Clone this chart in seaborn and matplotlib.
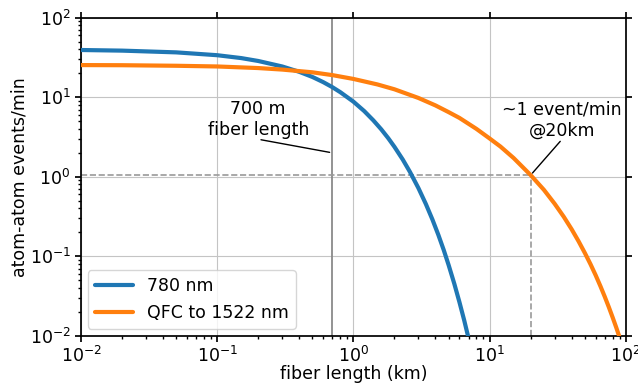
import pandas as pd
import seaborn as sns
import matplotlib.pyplot as plt

# values (fiber length in km, rate in events/min)
len_780 = [0.01, 0.02, 0.05, 0.1, 0.15, 0.2, 0.3, 0.4, 0.5, 0.6, 0.7, 0.8,
           1.0, 1.2, 1.4, 1.6, 1.8, 2.0, 2.3, 2.6, 3.0, 3.4, 3.8, 4.2, 4.6,
           5.0, 5.5, 6.0, 6.5, 7.0]
rate_780 = [39.3, 38.6, 36.7, 33.8, 31.1, 28.6, 24.4, 20.9, 18.0, 15.5, 13.4, 11.6,
            8.8, 6.7, 5.12, 3.95, 3.06, 2.38, 1.65, 1.15, 0.72, 0.455, 0.29, 0.186, 0.12,
            0.0774, 0.0452, 0.0265, 0.0157, 0.0093]

len_qfc = [0.01, 0.02, 0.05, 0.1, 0.2, 0.3, 0.5, 0.7, 1.0, 1.5, 2.0, 3.0, 4.0,
           5.0, 6.0, 8.0, 10.0, 12.0, 15.0, 20.0, 25.0, 30.0, 35.0, 40.0, 45.0,
           50.0, 55.0, 60.0, 65.0, 70.0, 75.0, 80.0, 85.0, 90.0, 95.0]
rate_qfc = [25.4, 25.3, 24.9, 24.4, 23.3, 22.3, 20.6, 19.0, 17.0, 14.5, 12.6, 9.8, 7.9,
            6.5, 5.5, 4.0, 3.03, 2.4, 1.72, 1.05, 0.686, 0.458, 0.314, 0.2185, 0.154,
            0.110, 0.0795, 0.0578, 0.0422, 0.031, 0.0229, 0.017, 0.0127, 0.0095, 0.0071]

labels = ["780 nm", "QFC to 1522 nm"]
lab_length = 0.7        # km of fiber in the lab link
target_length = 20.0    # km
target_rate = 1.05      # events/min at target length

df = pd.concat([
    pd.DataFrame({"length": len_780, "rate": rate_780, "series": labels[0]}),
    pd.DataFrame({"length": len_qfc, "rate": rate_qfc, "series": labels[1]}),
], ignore_index=True)

sns.set_theme(style="ticks", rc={
    "axes.edgecolor": "black", "text.color": "black",
    "axes.labelcolor": "black", "xtick.color": "black", "ytick.color": "black",
    "grid.color": "#c4c4c4", "grid.linewidth": 0.8,
})
plt.rcParams["font.family"] = ["DejaVu Sans"]
fs = 12.5

fig, ax = plt.subplots(figsize=(6.38, 3.86), dpi=100)
fig.subplots_adjust(left=0.127, right=0.981, bottom=0.130, top=0.954)

ax.set_xscale("log")
ax.set_yscale("log")
ax.grid(True, which="major")

ax.axvline(lab_length, color="#8a8a8a", lw=1.3, zorder=1.5)
ax.hlines(target_rate, 0.01, target_length, colors="#9a9a9a", linestyles="--", lw=1.2, zorder=1.6)
ax.vlines(target_length, 0.01, target_rate, colors="#9a9a9a", linestyles="--", lw=1.2, zorder=1.6)

sns.lineplot(data=df, x="length", y="rate", hue="series",
             palette={labels[0]: "#1f77b4", labels[1]: "#ff7f0e"},
             lw=3, sort=True, estimator=None, ax=ax, zorder=3)

ax.set_xlim(1e-2, 1e2)
ax.set_ylim(1e-2, 1e2)

# leader lines start right at the bottom centre of each label
leader = dict(arrowstyle="-", color="black", lw=1, relpos=(0.5, 0.0), patchA=None)
ax.annotate("700 m\nfiber length", xy=(lab_length, 2.0), xytext=(0.2, 5.2),
            ha="center", va="center", fontsize=fs, arrowprops=leader)
ax.annotate("~1 event/min\n@20km", xy=(target_length, target_rate), xytext=(34, 5.2),
            ha="center", va="center", fontsize=fs, arrowprops=leader)

ax.set_xlabel("fiber length (km)", fontsize=fs, labelpad=-1)
ax.set_ylabel("atom-atom events/min", fontsize=fs, labelpad=0.5)
ax.tick_params(which="major", labelsize=fs, top=True, right=True, direction="out", length=4)
ax.tick_params(which="minor", top=False, right=False, direction="out", length=2)

ax.legend(loc="lower left", fontsize=fs, handlelength=2.2, frameon=True,
          borderaxespad=0.4)

plt.savefig("out.png", dpi=100)
